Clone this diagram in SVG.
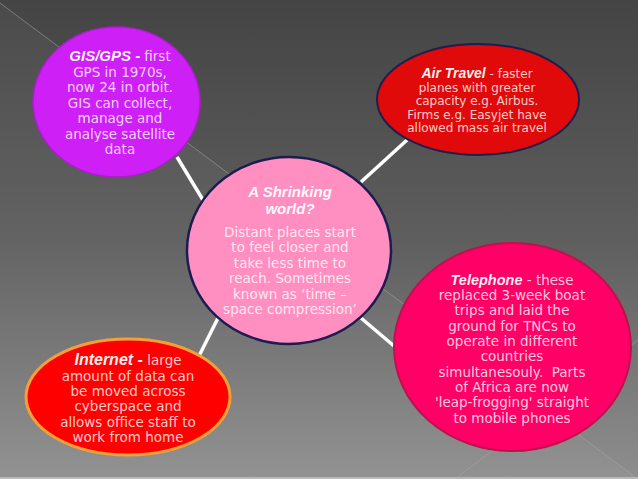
<svg xmlns="http://www.w3.org/2000/svg" width="638" height="479" viewBox="0 0 638 479">
<defs>
<linearGradient id="bg" x1="0" y1="0" x2="0" y2="1">
<stop offset="0" stop-color="#444444"/>
<stop offset="0.5" stop-color="#5e5e5e"/>
<stop offset="1" stop-color="#8e8e8e"/>
</linearGradient>
<style>
.body{font-family:"DejaVu Sans",sans-serif;font-size:13.5px;fill:#ffffff;fill-opacity:0.8;text-anchor:middle}
.small{font-family:"DejaVu Sans",sans-serif;font-size:12px;fill:#ffffff;fill-opacity:0.8;text-anchor:middle}
.ttl{font-family:"Liberation Sans",Arial,sans-serif;font-weight:bold;font-style:italic;fill:#ffffff;fill-opacity:0.95}
.conn{stroke:#ffffff;stroke-width:3.5;fill:none}
.bgline{stroke:#a8a8a8;stroke-width:1;stroke-opacity:0.55;fill:none}
</style>
</defs>
<rect x="0" y="0" width="638" height="479" fill="url(#bg)"/>
<polygon points="0,3 638,479 0,479" fill="#ffffff" fill-opacity="0.035"/>
<line class="bgline" x1="0" y1="3" x2="638" y2="479"/>
<line class="bgline" x1="455" y1="479" x2="638" y2="340"/>
<rect x="0" y="477" width="638" height="2" fill="#b8b8b8"/>

<g id="connectors">
<line class="conn" x1="177" y1="157" x2="203" y2="200"/>
<line class="conn" x1="407" y1="140" x2="361" y2="182"/>
<line class="conn" x1="199" y1="356" x2="218" y2="318"/>
<line class="conn" x1="361" y1="318" x2="394" y2="346"/>
</g>

<g id="gis">
<ellipse cx="116.5" cy="102" rx="83.5" ry="75" fill="#cf1ff7" stroke="#a81fc8" stroke-width="1.5"/>
<text class="body" x="120" y="61"><tspan class="ttl" font-size="15">GIS/GPS - </tspan>first</text>
<text class="body" x="120" y="76.5">GPS in 1970s,</text>
<text class="body" x="120" y="92">now 24 in orbit.</text>
<text class="body" x="120" y="107.5">GIS can collect,</text>
<text class="body" x="120" y="123">manage and</text>
<text class="body" x="120" y="138.5">analyse satellite</text>
<text class="body" x="120" y="154">data</text>
</g>

<g id="air">
<ellipse cx="478" cy="99.5" rx="101" ry="55.5" fill="#e00a0a" stroke="#1e1e4e" stroke-width="2"/>
<text class="small" x="477" y="78"><tspan class="ttl" font-size="14">Air Travel</tspan> - faster</text>
<text class="small" x="477" y="91.5">planes with greater</text>
<text class="small" x="477" y="105">capacity e.g. Airbus.</text>
<text class="small" x="477" y="118.5">Firms e.g. Easyjet have</text>
<text class="small" x="477" y="132">allowed mass air travel</text>
</g>

<g id="center">
<ellipse cx="289" cy="250.5" rx="102" ry="93.5" fill="#ff8fc1" stroke="#1c1c50" stroke-width="2.5"/>
<text class="ttl" x="290" y="197" font-size="15" text-anchor="middle">A Shrinking</text>
<text class="ttl" x="290" y="213.5" font-size="15" text-anchor="middle">world?</text>
<text class="body" x="290" y="236.5">Distant places start</text>
<text class="body" x="290" y="252">to feel closer and</text>
<text class="body" x="290" y="267.5">take less time to</text>
<text class="body" x="290" y="283">reach. Sometimes</text>
<text class="body" x="290" y="298.5">known as ‘time –</text>
<text class="body" x="290" y="314">space compression’</text>
</g>

<g id="internet">
<ellipse cx="128" cy="397" rx="102" ry="58" fill="#ff0000" stroke="#f5a036" stroke-width="3"/>
<text class="body" x="128" y="365"><tspan class="ttl" font-size="16">Internet - </tspan>large</text>
<text class="body" x="128" y="380.5">amount of data can</text>
<text class="body" x="128" y="396">be moved across</text>
<text class="body" x="128" y="411">cyberspace and</text>
<text class="body" x="128" y="426.5">allows office staff to</text>
<text class="body" x="128" y="442">work from home</text>
</g>

<g id="telephone">
<ellipse cx="512.5" cy="347" rx="118.5" ry="104" fill="#ff0066" stroke="#c0104e" stroke-width="2"/>
<text class="body" x="512" y="285"><tspan class="ttl" font-size="14.5">Telephone</tspan> - these</text>
<text class="body" x="512" y="300">replaced 3-week boat</text>
<text class="body" x="512" y="315.3">trips and laid the</text>
<text class="body" x="512" y="330.7">ground for TNCs to</text>
<text class="body" x="512" y="346">operate in different</text>
<text class="body" x="512" y="361.3">countries</text>
<text class="body" x="512" y="376.6">simultanesouly.&#160; Parts</text>
<text class="body" x="512" y="392">of Africa are now</text>
<text class="body" x="512" y="407.3">'leap-frogging' straight</text>
<text class="body" x="512" y="422.6">to mobile phones</text>
</g>
</svg>
